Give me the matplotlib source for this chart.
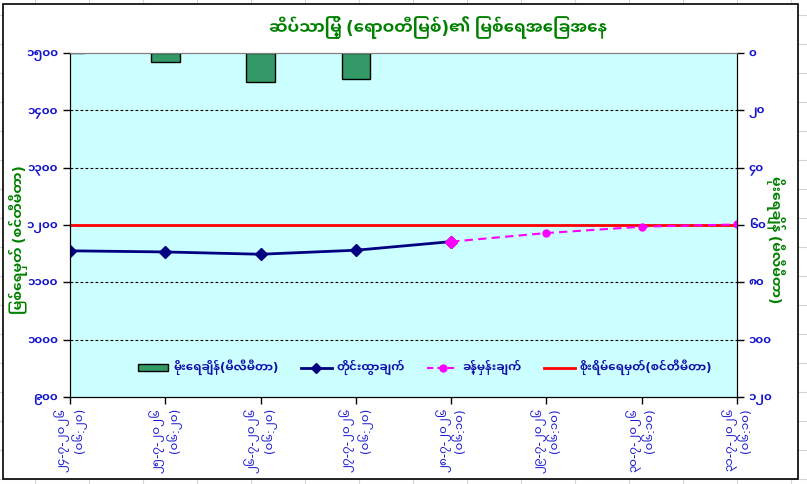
import matplotlib
matplotlib.use("Agg")
import matplotlib.pyplot as plt
from matplotlib.lines import Line2D

# river level at Seikpyu (Ayeyarwady river), observed + forecast
dates = ["၂၄-၇-၂၀၂၆", "၂၅-၇-၂၀၂၆", "၂၆-၇-၂၀၂၆", "၂၇-၇-၂၀၂၆",
         "၂၈-၇-၂၀၂၆", "၂၉-၇-၂၀၂၆", "၃၀-၇-၂၀၂၆", "၃၁-၇-၂၀၂၆"]
times = ["(၀၆:၂၀)", "(၀၆:၂၀)", "(၀၆:၂၀)", "(၀၆:၂၀)",
         "(၀၆:၁၀)", "(၀၆:၁၀)", "(၀၆:၁၀)", "(၀၆:၁၀)"]
observed = [1155, 1153, 1149, 1156, 1171]           # first 5 dates
forecast = [1171, 1186, 1197, 1201]                 # last 4 dates
rainfall = [0, 3, 10, 9]                            # mm, first 4 dates
danger = 1200

title = "ဆိပ်သာမြို့ (ရောဝတီမြစ်)၏ မြစ်ရေအခြေအနေ"
left_title = "မြစ်ရေမှတ် (စင်တီမီတာ)"
right_title = "မိုးရေချိန် (မီလီမီတာ)"
legend_labels = ["မိုးရေချိန်(မီလီမီတာ)", "တိုင်းထွာချက်", "ခန့်မှန်းချက်", "စိုးရိမ်ရေမှတ်(စင်တီမီတာ)"]

MM = "၀၁၂၃၄၅၆၇၈၉"


def mm_num(n):
    return "".join(MM[int(d)] for d in str(int(n)))


def visual(s):
    # matplotlib has no text shaping: put ေ and ြ in front of their consonant
    c = list(s)
    r = []
    k = 0
    while k < len(c):
        if k + 1 < len(c) and c[k + 1] == "ြ":
            if k + 2 < len(c) and c[k + 2] == "ေ":
                r += ["ေ", "ြ", c[k]]
                k += 3
                continue
            r += ["ြ", c[k]]
            k += 2
            continue
        if k + 1 < len(c) and c[k + 1] == "ေ":
            r += ["ေ", c[k]]
            k += 2
            continue
        r.append(c[k])
        k += 1
    return "".join(r)


FB = ["Noto Sans Myanmar UI", "DejaVu Sans"]
blue = "#1515D0"
green = "#008000"

W, H = 807, 484
fig = plt.figure(figsize=(W / 100, H / 100), dpi=100)

# spreadsheet cell lines around the chart
for gx in range(35, W, 54):
    fig.add_artist(Line2D([gx / W, gx / W], [0, 1], color="#d4d4d4", lw=0.8, zorder=-3))
for gy in range(15, H, 29):
    fig.add_artist(Line2D([0, 1], [1 - gy / H, 1 - gy / H], color="#d4d4d4", lw=0.8, zorder=-3))
frame = plt.Rectangle((3 / W, 1 - 479 / H), 795 / W, 475 / H, transform=fig.transFigure,
                      facecolor="white", edgecolor="black", lw=1.2, zorder=-2)
fig.add_artist(frame)

L, R, T, B = 70, 737, 53, 397
ax = fig.add_axes([L / W, 1 - B / H, (R - L) / W, (B - T) / H])
ax.set_facecolor("#CCFFFF")
x = list(range(len(dates)))

ax.set_xlim(0, len(dates) - 1)
ax.set_ylim(900, 1500)
ax.set_yticks(range(900, 1501, 100))
ax.set_yticklabels([mm_num(v) for v in range(900, 1501, 100)])
for v in range(1000, 1500, 100):
    ax.axhline(v, color="black", lw=0.8, ls=(0, (2.5, 2)), zorder=1)

ax.axhline(danger, color="red", lw=2, zorder=2)
ax.plot(x[:len(observed)], observed, color="#000080", lw=2, marker="D", ms=6, zorder=3)
ax.plot(x[len(dates) - len(forecast):], forecast, color="#FF00FF", lw=1.5, ls=(0, (4, 2.5)),
        marker="o", ms=5, zorder=4)
ax.plot(x[len(observed) - 1], observed[-1], color="#FF00FF", marker="D", ms=6, zorder=5)

ax.set_xticks(x)
ax.set_xticklabels([d + "\n" + t for d, t in zip(dates, times)], rotation=90,
                   ha="center", va="top", multialignment="right", linespacing=1.15)
for lab in ax.get_xticklabels():
    lab.set_fontfamily(FB)
    lab.set_fontsize(8.5)
    lab.set_color(blue)
for lab in ax.get_yticklabels():
    lab.set_fontfamily(FB)
    lab.set_fontsize(8.5)
    lab.set_fontweight("bold")
    lab.set_color(blue)
ax.tick_params(axis="both", direction="out", length=5, width=1, color="black")
ax.tick_params(axis="x", pad=3)
ax.spines["top"].set_color("#808080")
for s in ["left", "bottom", "right"]:
    ax.spines[s].set_color("black")

ax2 = ax.twinx()
ax2.set_ylim(120, 0)
ax2.set_yticks(range(0, 121, 20))
ax2.set_yticklabels([mm_num(v) for v in range(0, 121, 20)])
for lab in ax2.get_yticklabels():
    lab.set_fontfamily(FB)
    lab.set_fontsize(8.5)
    lab.set_fontweight("bold")
    lab.set_color(blue)
ax2.tick_params(axis="y", direction="out", length=5, width=1, color="black")
ax2.bar(x[:len(rainfall)], rainfall, width=0.3, color="#339966", edgecolor="black", lw=1, zorder=2)
ax2.spines["top"].set_color("#808080")

fig.text(438 / W, 1 - 28 / H, visual(title), ha="center", va="center", fontsize=12,
         fontweight="bold", family=FB, color=green)
fig.text(19 / W, 1 - 240 / H, visual(left_title), rotation=90, ha="center", va="center",
         fontsize=10, fontweight="bold", family=FB, color=green)
fig.text(776 / W, 1 - 240 / H, visual(right_title), rotation=-90, ha="center", va="center",
         fontsize=10, fontweight="bold", family=FB, color=green)

handles = [plt.Rectangle((0, 0), 1, 1, facecolor="#339966", edgecolor="black"),
           Line2D([], [], color="#000080", lw=2, marker="D", ms=5),
           Line2D([], [], color="#FF00FF", lw=1.5, ls=(0, (3, 2)), marker="o", ms=5),
           Line2D([], [], color="red", lw=2)]
leg = ax2.legend(handles, [visual(s) for s in legend_labels], loc="center",
                 bbox_to_anchor=((425 - L) / (R - L), (B - 367) / (B - T)), ncol=4, frameon=False,
                 prop={"family": FB, "size": 8.5, "weight": "bold"}, handlelength=2.6,
                 handleheight=0.5, columnspacing=1.9, handletextpad=0.4)
for t in leg.get_texts():
    t.set_color("#1010AA")

fig.savefig("out.png", dpi=100)
